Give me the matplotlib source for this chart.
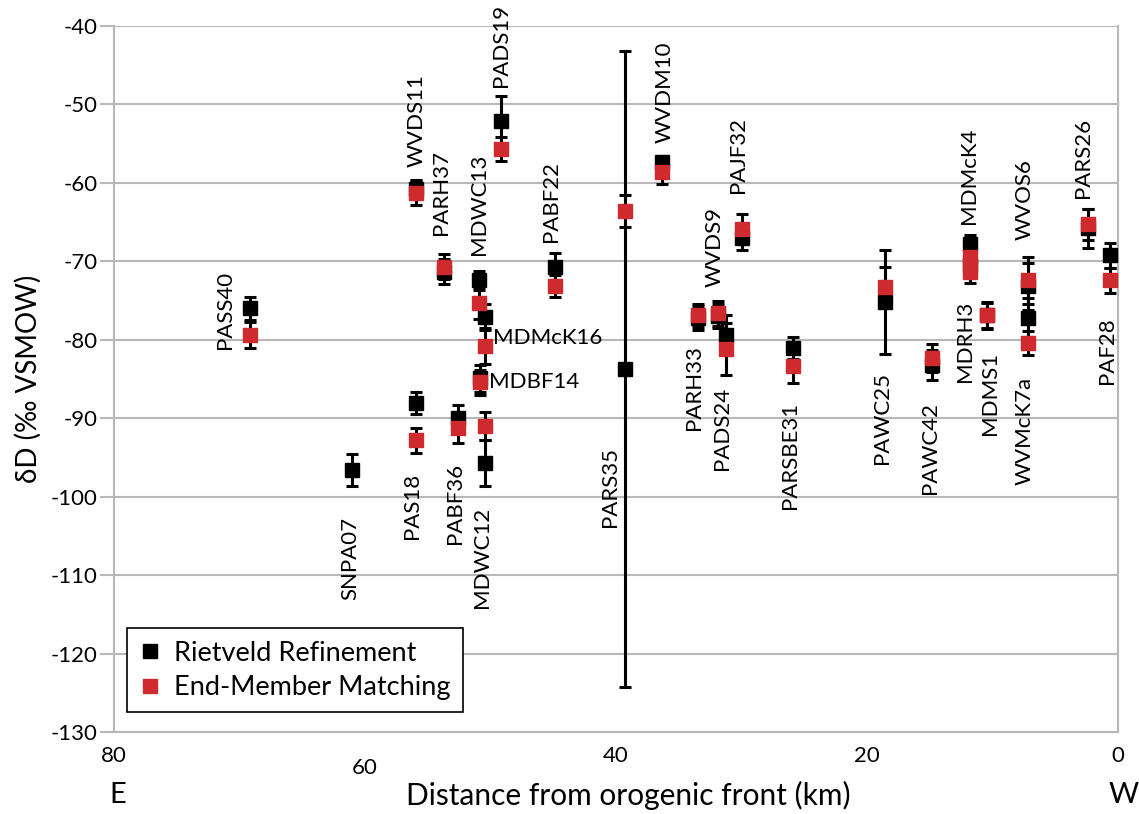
import matplotlib
matplotlib.use("Agg")
import matplotlib.pyplot as plt
from matplotlib.lines import Line2D
import numpy as np

plt.rcParams["font.family"] = ["Lato", "DejaVu Sans"]
plt.rcParams["axes.unicode_minus"] = False

# sample name, distance from front (km)
samples = ["PASS40", "SNPA07", "WVDS11", "PARH37", "MDWC13", "MDMcK16", "MDBF14",
           "MDWC12", "PAS18", "PABF36", "PADS19", "PABF22", "PARS35", "WVDM10",
           "PARH33", "WVDS9", "PADS24", "PAJF32", "PARSBE31", "PAWC25", "PAWC42",
           "MDMcK4", "MDRH3", "MDMS1", "WVOS6", "WVMcK7a", "PARS26", "PAF28"]
dist = [69.2, 61.0, 55.9, 53.7, 50.9, 50.4, 50.8,
        50.4, 55.9, 52.6, 49.2, 44.9, 39.3, 36.3,
        33.5, 31.9, 31.2, 30.0, 25.9, 18.6, 14.8,
        11.8, 11.8, 10.4, 7.2, 7.2, 2.4, 0.6]
# Rietveld refinement
rv = [-76.0, -96.6, -60.8, -71.3, -72.4, -77.1, -84.9,
      -95.7, -88.1, -90.0, -52.1, -70.7, -83.7, -57.3,
      -77.2, -77.0, -79.4, -67.0, -81.0, -75.2, -83.2,
      -67.8, -70.5, -76.9, -73.2, -77.2, -65.8, -69.2]
rv_err = [1.5, 2.0, 1.2, 1.6, 1.2, 1.7, 1.7,
          2.9, 1.4, 1.7, 3.2, 1.7, 40.5, 0.7,
          1.5, 1.5, 2.5, 1.5, 1.4, 6.6, 1.9,
          1.2, 1.5, 1.6, 3.0, 2.5, 2.5, 1.6]
# end-member matching
em = [-79.4, np.nan, -61.3, -70.7, -75.3, -80.8, -85.4,
      -91.0, -92.8, -91.3, -55.7, -73.1, -63.6, -58.6,
      -76.9, -76.6, -81.2, -65.9, -83.4, -73.3, -82.3,
      -69.4, -71.3, -76.9, -72.4, -80.4, -65.3, -72.4]
em_err = [1.7, np.nan, 1.5, 1.6, 2.0, 2.3, 1.6,
          1.8, 1.6, 1.8, 1.5, 1.4, 2.0, 1.5,
          1.5, 1.6, 3.3, 1.9, 2.1, 2.6, 1.8,
          1.2, 1.4, 1.7, 3.0, 1.5, 2.0, 1.6]

# label placement: side, dx, dy (pixels from the marker)
label_pos = {
    "PASS40": ("left", -25, -2), "SNPA07": ("down", -2, 47), "WVDS11": ("up", 0, 22),
    "PARH37": ("up", -3, 32), "MDWC13": ("up", 0, 25), "MDMcK16": ("right", 8, 8),
    "MDBF14": ("right", 9, 0), "MDWC12": ("down", -3, 44), "PAS18": ("down", -4, 33),
    "PABF36": ("down", -3, 34), "PADS19": ("up", 0, 34), "PABF22": ("up", -4, 25),
    "PARS35": ("down", -15, 78), "WVDM10": ("up", 2, 19), "PARH33": ("down", -4, 27),
    "WVDS9": ("up", -3, 26), "PADS24": ("down", -4, 38), "PAJF32": ("up", -3, 36),
    "PARSBE31": ("down", -3, 35), "PAWC25": ("down", -3, 70), "PAWC42": ("down", -2, 37),
    "MDMcK4": ("up", -1, 20), "MDRH3": ("down", -5, 29), "MDMS1": ("down", 3, 36),
    "WVOS6": ("up", -3, 40), "WVMcK7a": ("down", -3, 34), "PARS26": ("up", -5, 26),
    "PAF28": ("down", -3, 37),
}

red = "#cf2a2e"
grey = "#b8b8b8"
lab_fs = 16

fig = plt.figure(figsize=(11.39, 8.14), dpi=100)
ax = fig.add_axes([114 / 1139, 1 - 732 / 814, 1004 / 1139, 706 / 814])

ax.errorbar(dist, rv, yerr=rv_err, fmt="s", color="black", ms=9.5, ecolor="black",
            elinewidth=2.2, capsize=4, capthick=2.2, zorder=3)
ax.errorbar(dist, em, yerr=em_err, fmt="s", color=red, mec=red, ms=9.5, ecolor="black",
            elinewidth=2.2, capsize=4, capthick=2.2, zorder=4)

for i, name in enumerate(samples):
    side, dx, dy = label_pos[name]
    ys = [v for v in (rv[i], em[i]) if not np.isnan(v)]
    if side == "up":
        ax.annotate(name, (dist[i], max(ys)), xytext=(dx, dy), textcoords="offset pixels",
                    rotation=90, ha="center", va="bottom", fontsize=lab_fs, zorder=5)
    elif side == "down":
        ax.annotate(name, (dist[i], min(ys)), xytext=(dx, -dy), textcoords="offset pixels",
                    rotation=90, ha="center", va="top", fontsize=lab_fs, zorder=5)
    elif side == "left":
        ax.annotate(name, (dist[i], rv[i]), xytext=(dx, dy), textcoords="offset pixels",
                    rotation=90, ha="center", va="center", fontsize=lab_fs, zorder=5)
    else:
        ax.annotate(name, (dist[i], min(ys)), xytext=(dx, dy), textcoords="offset pixels",
                    ha="left", va="center", fontsize=lab_fs, zorder=5)

ax.set_xlim(80, 0)
ax.set_ylim(-130, -40)
ax.set_yticks(np.arange(-130, -39, 10))
ax.set_xticks([80, 60, 40, 20, 0])
ax.yaxis.grid(True, color=grey, lw=1.5)
ax.set_axisbelow(True)
for s in ["left", "right", "bottom"]:
    ax.spines[s].set_color(grey)
    ax.spines[s].set_linewidth(1.5)
ax.spines["top"].set_visible(False)
ax.tick_params(axis="y", length=10, width=1.5, color=grey, labelsize=16, pad=2)
ax.tick_params(axis="x", length=0, labelsize=16, pad=10)
ax.xaxis.get_major_ticks()[1].set_pad(19)

ax.set_ylabel("δD (‰ VSMOW)", fontsize=20, labelpad=6)
fig.text(118 / 1139, 1 - 795 / 814, "E", fontsize=21, ha="center", va="center")
fig.text(1124 / 1139, 1 - 795 / 814, "W", fontsize=21, ha="center", va="center")
fig.text(628 / 1139, 1 - 795 / 814, "Distance from orogenic front (km)", fontsize=21.5,
         ha="center", va="center")

handles = [Line2D([], [], ls="none", marker="s", color="black", ms=10),
           Line2D([], [], ls="none", marker="s", color=red, ms=10)]
leg = ax.legend(handles, ["Rietveld Refinement", "End-Member Matching"], loc="lower left",
                bbox_to_anchor=(0.013, 0.028), borderaxespad=0, fontsize=19.5,
                fancybox=False, edgecolor="black", framealpha=1, handlelength=0.8,
                handletextpad=0.5, borderpad=0.45, labelspacing=0.35)
leg.get_frame().set_linewidth(1.2)

fig.savefig("out.png", dpi=100)
